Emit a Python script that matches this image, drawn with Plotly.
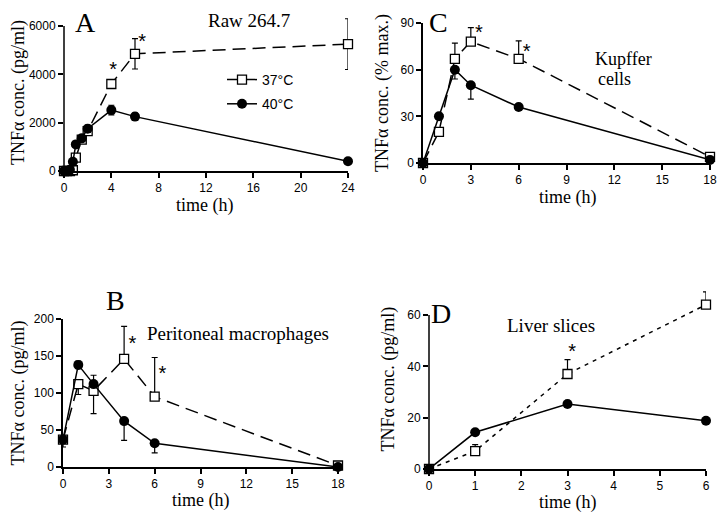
import plotly.graph_objects as go

W, H = 727, 515
OFF = 8  # the page body has a default 8px margin
FW, FH = W - OFF, H - OFF

# panel A - Raw 264.7
a_t = [0, 0.25, 0.5, 0.75, 1, 1.5, 2, 4, 6, 24]
a_37 = [0, 0, 0, 30, 550, 1300, 1650, 3600, 4850, 5250]
a_37_err = [0, 0, 0, 0, 100, 150, 150, 150, 630, 1050]
a_40 = [0, 0, 50, 380, 1100, 1350, 1750, 2520, 2250, 400]
a_40_err = [0, 0, 0, 50, 100, 100, 150, 200, 150, 50]

# panel B - peritoneal macrophages
b_t = [0, 1, 2, 4, 6, 18]
b_37 = [37, 112, 103, 146, 95, 2]
b_37_up = [0, 0, 0, 44, 53, 0]
b_37_dn = [10, 14, 31, 0, 0, 0]
b_40 = [37, 138, 112, 62, 32, 0]
b_40_up = [0, 5, 12, 0, 0, 0]
b_40_dn = [0, 5, 0, 26, 13, 0]

# panel C - Kupffer cells
c_t = [0, 1, 2, 3, 6, 18]
c_37 = [0, 20, 67, 78, 67, 4]
c_37_up = [0, 0, 10, 9, 11.5, 0]
c_40 = [0, 30, 60, 50, 36, 2]
c_40_dn = [0, 0, 6, 9, 0, 0]

# panel D - liver slices
d_t = [0, 1, 3, 6]
d_37 = [0, 7, 37, 64]
d_37_up = [0, 2.5, 5.6, 5]
d_40 = [0, 14.3, 25.3, 18.8]

# significance stars (data coords)
stars = {
    "": ([4.15, 6.6, 24.45], [4150, 5280, 5970]),
    "2": ([3.5, 6.5], [83, 71]),
    "3": ([4.55, 6.5], [165, 124]),
    "4": ([3.1, 6.15], [45, 66]),
}

SERIF = "Liberation Serif"
SANS = "Liberation Sans"


def px_x(a, b):
    return [(a - OFF) / FW, (b - OFF) / FW]


def px_y(top, bottom):
    return [1 - (bottom - OFF) / FH, 1 - (top - OFF) / FH]


def sq(x, y, up, dn, ax, dash, show):
    return go.Scatter(
        x=x, y=y, mode="lines+markers", name="37°C", showlegend=show,
        legendgroup="37", xaxis="x" + ax, yaxis="y" + ax, cliponaxis=False,
        line=dict(color="black", width=1.5, dash=dash),
        marker=dict(symbol="square", size=9, color="white",
                    line=dict(color="black", width=1.3)),
        error_y=dict(type="data", symmetric=False, array=up, arrayminus=dn,
                     color="black", thickness=1.2, width=3),
    )


def ci(x, y, up, dn, ax, show):
    return go.Scatter(
        x=x, y=y, mode="lines+markers", name="40°C", showlegend=show,
        legendgroup="40", xaxis="x" + ax, yaxis="y" + ax, cliponaxis=False,
        line=dict(color="black", width=1.5),
        marker=dict(symbol="circle", size=10, color="black"),
        error_y=dict(type="data", symmetric=False, array=up, arrayminus=dn,
                     color="black", thickness=1.2, width=3),
    )


z = lambda n: [0] * n
traces = [
    sq(a_t, a_37, a_37_err, a_37_err, "", "13px,7px", True),
    ci(a_t, a_40, a_40_err, a_40_err, "", True),
    sq(c_t, c_37, c_37_up, z(6), "2", "13px,7px", False),
    ci(c_t, c_40, z(6), c_40_dn, "2", False),
    sq(b_t, b_37, b_37_up, b_37_dn, "3", "13px,7px", False),
    ci(b_t, b_40, b_40_up, b_40_dn, "3", False),
    sq(d_t, d_37, d_37_up, z(4), "4", "4px,5px", False),
    ci(d_t, d_40, z(4), z(4), "4", False),
]
for ax, (sx, sy) in stars.items():
    traces.append(go.Scatter(x=sx, y=sy, mode="text", text=["*"] * len(sx),
                             textfont=dict(family=SANS, size=20, color="black"),
                             xaxis="x" + ax, yaxis="y" + ax, showlegend=False,
                             cliponaxis=False, hoverinfo="skip"))

fig = go.Figure(traces)


def xax(dom, rng, ticks, anchor):
    return dict(domain=dom, range=rng, tickvals=ticks, anchor=anchor,
                automargin=False,
                showline=True, linecolor="black", linewidth=1.5,
                ticks="outside", ticklen=5, tickwidth=1.5, tickcolor="black",
                showgrid=False, zeroline=False,
                tickfont=dict(family=SANS, size=12, color="black"))


def yax(dom, rng, ticks, anchor, title, line=True):
    return dict(domain=dom, range=rng, tickvals=ticks, anchor=anchor,
                automargin=False,
                showline=line, linecolor="black", linewidth=1.5,
                ticks="outside", ticklen=5, tickwidth=1.5, tickcolor="black",
                showgrid=False, zeroline=False,
                tickfont=dict(family=SANS, size=12, color="black"),
                title=dict(text=title, standoff=7,
                           font=dict(family=SERIF, size=18, color="black")))


pg = "TNFα conc. (pg/ml)"
fig.update_layout(
    width=FW, height=FH, margin=dict(l=0, r=0, t=0, b=0),
    paper_bgcolor="white", plot_bgcolor="white",
    # A and D: data run past the top tick, so range goes higher and the
    # axis line is drawn as a shape up to the top tick only
    xaxis=xax(px_x(64, 348), [0, 24], [0, 4, 8, 12, 16, 20, 24], "y"),
    yaxis=yax(px_y(13.9, 171), [0, 6500], [0, 2000, 4000, 6000], "x", pg, False),
    xaxis2=xax(px_x(423, 710), [0, 18], [0, 3, 6, 9, 12, 15, 18], "y2"),
    yaxis2=yax(px_y(23, 163), [0, 90], [0, 30, 60, 90], "x2", "TNFα conc. (% max.)"),
    xaxis3=xax(px_x(63, 338), [0, 18], [0, 3, 6, 9, 12, 15, 18], "y3"),
    yaxis3=yax(px_y(319, 467), [0, 200], [0, 50, 100, 150, 200], "x3", pg),
    xaxis4=xax(px_x(429, 706), [0, 6], [0, 1, 2, 3, 4, 5, 6], "y4"),
    yaxis4=yax(px_y(289.3, 469), [0, 70], [0, 20, 40, 60], "x4", pg, False),
    legend=dict(x=(222 - OFF) / FW, y=1 - (64 - OFF) / FH, xanchor="left", yanchor="top",
                bgcolor="rgba(0,0,0,0)", itemwidth=30, tracegroupgap=3,
                font=dict(family=SANS, size=14, color="black")),
    showlegend=True,
)

for ax, top in (("", 6000), ("4", 60)):
    fig.add_shape(type="line", xref=("x" + ax if ax else "x") + " domain",
                  yref="y" + ax, x0=0, x1=0, y0=0, y1=top,
                  line=dict(color="black", width=1.5))

labels = [
    ("A", 85, 22, 28, "center", SERIF),
    ("Raw 264.7", 249, 20, 19, "center", SERIF),
    ("C", 438, 22, 28, "center", SERIF),
    ("Kupffer", 593, 59, 18, "left", SERIF),
    ("cells", 596, 79, 18, "left", SERIF),
    ("B", 115, 300, 28, "center", SERIF),
    ("Peritoneal macrophages", 145, 333, 19, "left", SERIF),
    ("D", 441, 313, 28, "center", SERIF),
    ("Liver slices", 505, 325, 19, "left", SERIF),
    # x-axis titles sit right under the tick labels
    ("time (h)", 204, 205, 18, "center", SERIF),
    ("time (h)", 567, 197, 18, "center", SERIF),
    ("time (h)", 200, 500, 18, "center", SERIF),
    ("time (h)", 567, 502, 18, "center", SERIF),
]
for text, x, y, size, anchor, fam in labels:
    fig.add_annotation(text=text, x=(x - OFF) / FW, y=1 - (y - OFF) / FH,
                       xref="paper", yref="paper",
                       xanchor=anchor, yanchor="middle", showarrow=False,
                       font=dict(family=fam, size=size, color="black"))

fig.write_html("out.html")
